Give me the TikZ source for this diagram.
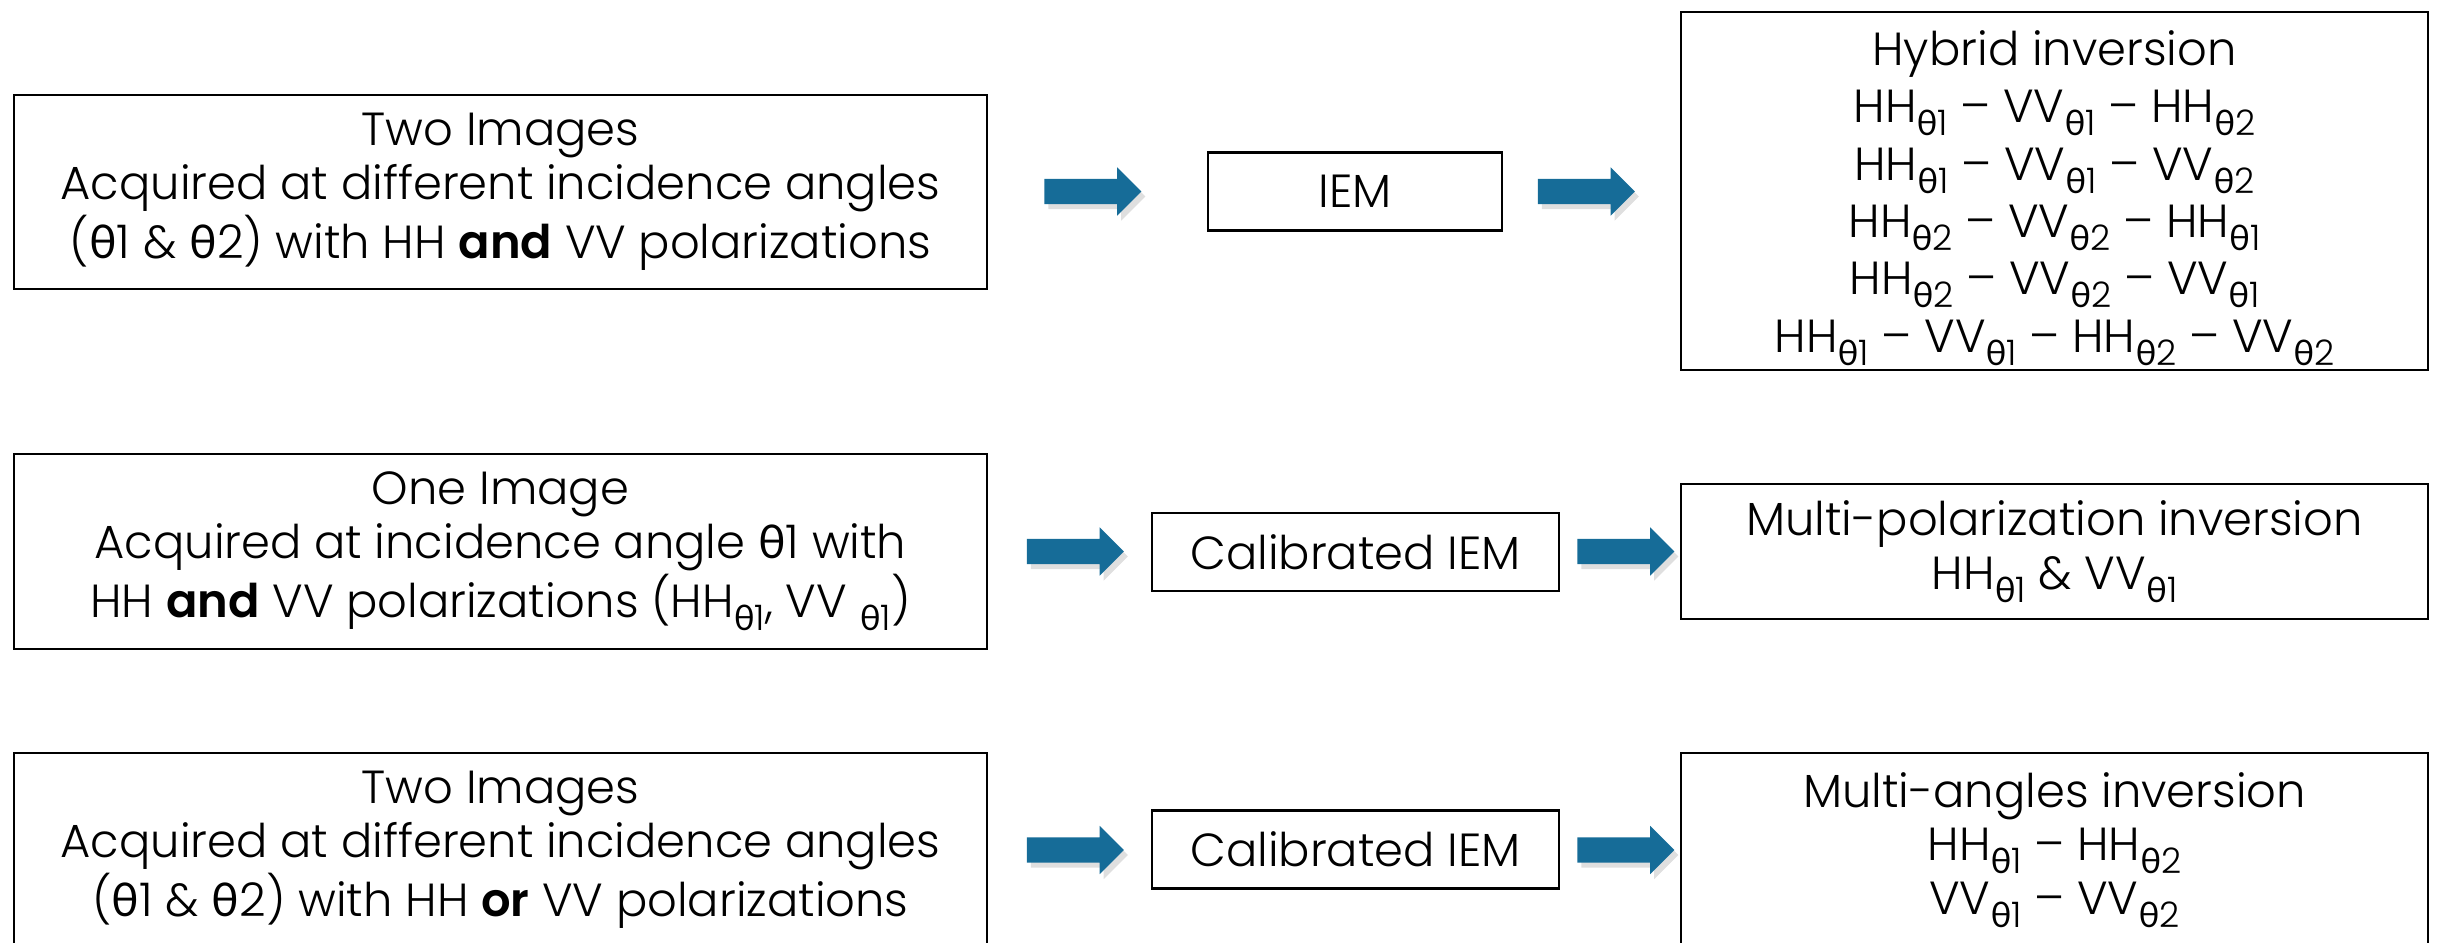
\documentclass[tikz,border=0pt]{standalone}
\usepackage{fontspec}
\IfFontExistsTF{Poppins Light}
  {\setmainfont{Poppins Light}[BoldFont={Poppins SemiBold}]}
  {\setmainfont{Poppins}}
\newfontfamily\grkfont{Lato}
\usetikzlibrary{shapes.arrows,shadows}
\definecolor{cblue}{RGB}{22,108,152}
\newcommand{\thet}{{\grkfont θ}}
\newcommand{\tsub}[1]{\raisebox{-0.28em}{\fontsize{10}{10}\selectfont\thet#1}}

\begin{document}
\begin{tikzpicture}[x=0.01cm, y=-0.01cm,
    box/.style={draw, line width=0.6pt, align=center, inner sep=0pt,
                font=\fontsize{13.2}{15.2}\selectfont},
    srcbox/.style={box, minimum width=9.72cm, minimum height=1.94cm},
    modbox/.style={box, minimum height=0.78cm},
    resbox/.style={box, minimum width=7.47cm},
    blockarrow/.style={single arrow, fill=cblue, draw=none, inner xsep=0pt, inner ysep=0.12cm,
                       minimum height=0.97cm,
                       single arrow head extend=0.115cm, single arrow tip angle=90,
                       drop shadow={shadow xshift=0.4mm, shadow yshift=-0.5mm, opacity=0.25}},
  ]
  \useasboundingbox (0,0) rectangle (2437,943);

  % Row 1: two images, HH and VV
  \node[srcbox] (src1) at (500.5,192)
    {Two Images\\Acquired at different incidence angles\\(\thet1 \& \thet2) with HH \textbf{and} VV polarizations};
  \node[blockarrow] (arr1a) at (1086.5,191.5) {};
  \node[modbox, minimum width=2.94cm] (iem) at (1355,191.5) {IEM};
  \node[blockarrow] (arr1b) at (1580,191.5) {};
  \node[resbox, minimum height=3.58cm] (hybrid) at (2054.5,191) {};
  \node[align=center, inner sep=0pt, font=\fontsize{13.2}{16.3}\selectfont]
    (hybridtxt) at ([yshift=-0.07cm]hybrid.center)
    {Hybrid inversion\\
     HH\tsub1 -- VV\tsub1 -- HH\tsub2\\
     HH\tsub1 -- VV\tsub1 -- VV\tsub2\\
     HH\tsub2 -- VV\tsub2 -- HH\tsub1\\
     HH\tsub2 -- VV\tsub2 -- VV\tsub1\\
     HH\tsub1 -- VV\tsub1 -- HH\tsub2 -- VV\tsub2};

  % Row 2: one image, HH and VV
  \node[srcbox] (src2) at (500.5,551.5)
    {One Image\\Acquired at incidence angle \thet1 with\\HH \textbf{and} VV polarizations (HH\tsub1, VV \tsub1)};
  \node[blockarrow] (arr2a) at (1069,551.5) {};
  \node[modbox, minimum width=4.07cm] (cal2) at (1355.5,552) {Calibrated IEM};
  \node[blockarrow] (arr2b) at (1619.5,551.5) {};
  \node[resbox, minimum height=1.35cm] (multipol) at (2054.5,551.5)
    {Multi-polarization inversion\\HH\tsub1 \& VV\tsub1};

  % Row 3: two images, HH or VV
  \node[srcbox] (src3) at (500.5,850)
    {Two Images\\Acquired at different incidence angles\\(\thet1 \& \thet2) with HH \textbf{or} VV polarizations};
  \node[blockarrow] (arr3a) at (1069,850) {};
  \node[modbox, minimum width=4.07cm] (cal3) at (1355.5,849.5) {Calibrated IEM};
  \node[blockarrow] (arr3b) at (1619.5,850) {};
  \node[resbox, minimum height=1.94cm] (multiang) at (2054.5,850)
    {Multi-angles inversion\\HH\tsub1 -- HH\tsub2\\VV\tsub1 -- VV\tsub2};
\end{tikzpicture}
\end{document}
